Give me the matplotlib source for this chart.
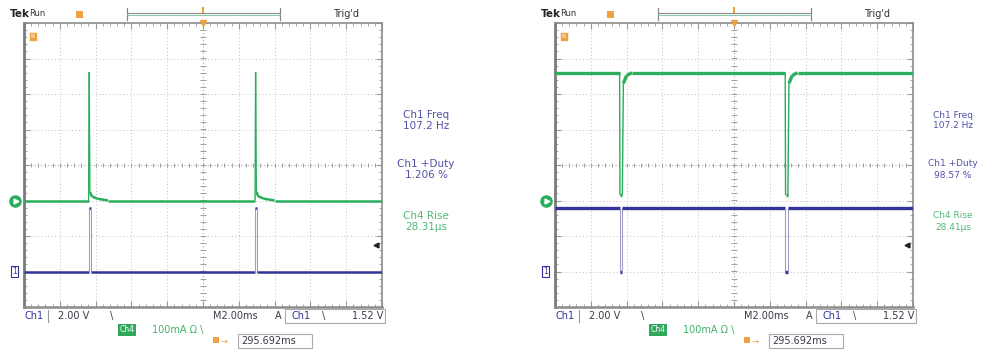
import numpy as np
import matplotlib
matplotlib.use('Agg')
import matplotlib.pyplot as plt
import matplotlib.transforms as mtransforms
from matplotlib.collections import LineCollection
from matplotlib.patches import Rectangle

W, H = 982, 354

# scope settings
ch1_volts_per_div = 2.0
ch4_ma_per_div = 100.0
ch1_offset_div = -3.0
ch4_offset_div = -1.0
trigger_level_v = 1.52

# left capture: time (ms), Ch1 (V), Ch4 (mA)
left_t_ch1 = [-10.0, -6.37, -6.37, -6.26, -6.26, 2.93, 2.93, 3.04, 3.04, 10.0]
left_v_ch1 = [0.0, 0.0, 3.6, 3.6, 0.0, 0.0, 3.6, 3.6, 0.0, 0.0]
left_t_ch4 = [-10.0, -6.39, -6.36, -6.32, -6.22, -5.9, -5.3,
              2.91, 2.94, 2.98, 3.08, 3.4, 4.0, 10.0]
left_i_ch4 = [0, 0, 362, 25, 12, 5, 0, 0, 362, 25, 12, 5, 0, 0]
left_readout = ['107.2 Hz', '1.206 %', '28.31µs']

# right capture
right_t_ch1 = [-10.0, -6.38, -6.38, -6.25, -6.25, 2.87, 2.87, 3.0, 3.0, 10.0]
right_v_ch1 = [3.6, 3.6, 0.0, 0.0, 3.6, 3.6, 0.0, 0.0, 3.6, 3.6]
right_t_ch4 = [-10.0, -6.39, -6.37, -6.24, -6.18, -6.0, -5.7,
               2.86, 2.88, 3.01, 3.07, 3.25, 3.55, 10.0]
right_i_ch4 = [360, 360, 15, 15, 330, 352, 360, 360, 15, 15, 330, 352, 360, 360]
right_readout = ['107.2 Hz', '98.57 %', '28.41µs']

GREEN = '#2aad5c'
BLUE = '#33339c'
ORANGE = '#f0a040'
TXT = '#3a3a4a'


def segments(t, y, fast=0.08):
    pts = np.column_stack([t, y])
    segs = np.stack([pts[:-1], pts[1:]], axis=1)
    steep = np.diff(np.asarray(t, float)) < fast
    return segs, steep


def draw_panel(ax, t1, v1, t4, i4, thick):
    ax.set_xlim(-10, 10)
    ax.set_ylim(-4, 4)
    # graticule
    for xv in np.arange(-8, 9, 2):
        if xv != 0:
            ax.axvline(xv, ls=(0, (1, 2.5)), color='#c0c0c0', lw=0.7, zorder=1)
    for yv in range(-3, 4):
        if yv != 0:
            ax.axhline(yv, ls=(0, (1, 2.5)), color='#c0c0c0', lw=0.7, zorder=1)
    ax.axhline(0, ls=(0, (1, 2)), color='#a8a8a8', lw=0.8, zorder=1)
    ax.axvline(0, ls=(0, (1, 2)), color='#a8a8a8', lw=0.8, zorder=1)
    ax.vlines(np.arange(-10, 10.01, 0.4), -0.07, 0.07, color='#a0a0a0', lw=0.7, zorder=1)
    ax.hlines(np.arange(-4, 4.01, 0.2), -0.14, 0.14, color='#a0a0a0', lw=0.7, zorder=1)

    ax.set_xticks(np.arange(-10, 10.01, 2))
    ax.set_xticks(np.arange(-10, 10.01, 0.4), minor=True)
    ax.set_yticks(np.arange(-4, 4.01, 1))
    ax.set_yticks(np.arange(-4, 4.01, 0.2), minor=True)
    ax.tick_params(which='both', direction='in', top=True, right=True,
                   labelbottom=False, labelleft=False, color='#999999')
    ax.tick_params(which='major', length=4, width=0.8)
    ax.tick_params(which='minor', length=2.5, width=0.6)
    for side, sp in ax.spines.items():
        sp.set_color('#8c8c8c')
        sp.set_linewidth(1.2)
    ax.spines['left'].set_linewidth(2.0)
    ax.spines['left'].set_color('#7a7a7a')
    ax.spines['bottom'].set_linewidth(1.8)

    # Ch4 (current)
    y4 = ch4_offset_div + np.asarray(i4, float) / ch4_ma_per_div
    segs, steep = segments(t4, y4)
    lc = LineCollection(segs, colors=GREEN, linewidths=np.where(steep, 1.0, thick),
                        capstyle='butt', zorder=3)
    ax.add_collection(lc)

    # Ch1 (voltage)
    y1 = ch1_offset_div + np.asarray(v1, float) / ch1_volts_per_div
    segs, steep = segments(t1, y1, fast=1e-6)
    cols = np.where(steep[:, None], np.array([[0.62, 0.62, 0.78, 1]]),
                    np.array([[0.2, 0.2, 0.61, 1]]))
    lc = LineCollection(segs, colors=cols, linewidths=np.where(steep, 0.8, thick),
                        capstyle='butt', zorder=4)
    ax.add_collection(lc)

    # markers: ground levels and trigger level
    tr = mtransforms.blended_transform_factory(ax.transAxes, ax.transData)
    ax.plot([-0.025], [ch4_offset_div], transform=tr, marker='o', ms=8,
            color=GREEN, clip_on=False, zorder=5)
    ax.plot([-0.022], [ch4_offset_div], transform=tr, marker='>', ms=3.5,
            color='white', clip_on=False, zorder=6)
    ax.text(-0.027, ch1_offset_div, '1', transform=tr, ha='center', va='center',
            fontsize=5.5, color=BLUE, zorder=6,
            bbox=dict(boxstyle='square,pad=0.15', fc='white', ec=BLUE, lw=0.8))
    ax.plot([9.65], [ch1_offset_div + trigger_level_v / ch1_volts_per_div],
            marker='<', ms=3.5, color='#222222', zorder=5)
    ax.plot([0], [4], marker='v', ms=5, color=ORANGE, clip_on=False, zorder=6)
    ax.text(-9.5, 3.63, 'R', ha='center', va='center', fontsize=4.5, color='white',
            zorder=6, bbox=dict(boxstyle='square,pad=0.15', fc=ORANGE, ec=ORANGE))


def draw_labels(ov, dx, readout, cx, rfs):
    # top bar
    ov.text(10 + dx, 14, 'Tek', fontsize=7.5, fontweight='bold', color='#222222',
            ha='left', va='center')
    ov.text(29 + dx, 14, 'Run', fontsize=6, color='#333333', ha='left', va='center')
    ov.add_patch(Rectangle((76 + dx, 11), 7, 7, fc=ORANGE, ec='none'))
    ov.plot([127 + dx, 127 + dx], [8, 20], color='#888888', lw=0.9)
    ov.plot([280 + dx, 280 + dx], [8, 20], color='#888888', lw=0.9)
    ov.plot([127 + dx, 280 + dx], [13, 13], color='#8a8a8a', lw=0.8)
    ov.plot([127 + dx, 280 + dx], [15, 15], color='#8cc8a8', lw=0.8)
    ov.plot([203 + dx, 203 + dx], [8, 12], color=ORANGE, lw=1.5)
    ov.text(333 + dx, 14, "Trig'd", fontsize=7, color='#333333', ha='left', va='center')

    # measurement readouts
    for y, s, c in [(115, 'Ch1 Freq', '#5050a8'), (126, readout[0], '#5050a8'),
                    (164, 'Ch1 +Duty', '#5050a8'), (175, readout[1], '#5050a8'),
                    (216, 'Ch4 Rise', '#50b878'), (227, readout[2], '#50b878')]:
        ov.text(cx, y, s, fontsize=rfs, color=c, ha='center', va='center')

    # bottom status line
    fs = 7
    ov.text(25 + dx, 316, 'Ch1', fontsize=fs, color=BLUE, ha='left', va='center')
    ov.plot([48 + dx, 48 + dx], [310, 322], color='#999999', lw=0.8)
    ov.text(58 + dx, 316, '2.00 V', fontsize=fs, color=TXT, ha='left', va='center')
    ov.text(110 + dx, 316, '\\', fontsize=fs, color=TXT, ha='left', va='center')
    ov.text(213 + dx, 316, 'M2.00ms', fontsize=fs, color=TXT, ha='left', va='center')
    ov.text(275 + dx, 316, 'A', fontsize=fs, color=TXT, ha='left', va='center')
    ov.add_patch(Rectangle((285 + dx, 309), 100, 14, fc='none', ec='#aaaaaa', lw=0.8))
    ov.text(292 + dx, 316, 'Ch1', fontsize=fs, color=BLUE, ha='left', va='center')
    ov.text(322 + dx, 316, '\\', fontsize=fs, color=TXT, ha='left', va='center')
    ov.text(383 + dx, 316, '1.52 V', fontsize=fs, color=TXT, ha='right', va='center')

    ov.text(127 + dx, 330, 'Ch4', fontsize=5.5, color='white', ha='center', va='center',
            bbox=dict(boxstyle='square,pad=0.2', fc='#2ea85a', ec='none'))
    ov.text(152 + dx, 330, '100mA Ω \\', fontsize=fs, color='#40b068',
            ha='left', va='center')

    ov.add_patch(Rectangle((213 + dx, 337), 6, 6, fc=ORANGE, ec='none'))
    ov.text(221 + dx, 341, '→', fontsize=6, color=ORANGE, ha='left', va='center')
    ov.add_patch(Rectangle((238 + dx, 334), 74, 14, fc='none', ec='#aaaaaa', lw=0.8))
    ov.text(241 + dx, 341, '295.692ms', fontsize=fs, color=TXT, ha='left', va='center')


fig = plt.figure(figsize=(W / 100, H / 100), dpi=100)


def add_panel(x0, y0, x1, y1):
    return fig.add_axes([x0 / W, 1 - y1 / H, (x1 - x0) / W, (y1 - y0) / H])


ax_left = add_panel(24, 23, 382, 307)
ax_right = add_panel(555, 23, 913, 307)
draw_panel(ax_left, left_t_ch1, left_v_ch1, left_t_ch4, left_i_ch4, thick=1.8)
draw_panel(ax_right, right_t_ch1, right_v_ch1, right_t_ch4, right_i_ch4, thick=2.4)

ov = fig.add_axes([0, 0, 1, 1], zorder=10)
ov.set_xlim(0, W)
ov.set_ylim(H, 0)
ov.axis('off')
ov.patch.set_alpha(0)
draw_labels(ov, 0, left_readout, cx=426, rfs=7.5)
draw_labels(ov, 531, right_readout, cx=953, rfs=6.5)

fig.savefig('out.png', dpi=100)
